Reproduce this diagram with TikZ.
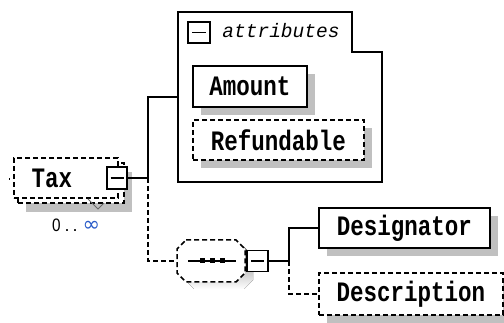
\documentclass[tikz,border=0pt]{standalone}
\usepackage{fontspec}
\usepackage{graphicx}
\usetikzlibrary{shadows}
\newfontfamily\monofam{Liberation Mono}
\newfontfamily\labfam{Liberation Sans}
\newfontfamily\symfam{DejaVu Sans}
\definecolor{shade}{RGB}{192,192,192}
\definecolor{infblue}{RGB}{40,90,200}
\newcommand\eltext[1]{\scalebox{1}[1.25]{#1}}
\tikzset{
  el/.style={draw, line width=1.5pt, fill=white, inner sep=0pt,
    font=\monofam\bfseries\fontsize{22.5}{24}\selectfont},
  elshadow/.style={drop shadow={shadow xshift=8pt, shadow yshift=-8pt, opacity=1, fill=shade}},
  optel/.style={el, dash pattern=on 5pt off 3pt},
  minusbox/.style={draw, line width=1.3pt, fill=white, inner sep=0pt},
  conn/.style={line width=1.2pt},
  optconn/.style={conn, dash pattern=on 5pt off 3pt},
  bar/.style={line width=1.2pt},
}
\begin{document}
\begin{tikzpicture}[x=1pt,y=-1pt]
\useasboundingbox (0,0) rectangle (504,323);

% ---- Tax (repeated element) ----
\node[optel, minimum width=106pt, minimum height=40pt,
  drop shadow={shadow xshift=8pt, shadow yshift=-9pt, opacity=1, fill=shade}] (taxback) at (71,183) {};
\node[optel, minimum width=104pt, minimum height=40pt] (tax) at (66,178) {\eltext{Tax}\hspace*{28pt}};
\node[minusbox, minimum width=20pt, minimum height=22pt] (taxm) at (117,178) {};
\draw[bar] ([xshift=-6.5pt]taxm.center) -- ([xshift=6.5pt]taxm.center);
\coordinate (taxin) at (9,179);
\draw[conn] (taxin) -- ([xshift=-3pt,yshift=-1pt]tax.west);
\draw[line width=1pt, black!60] (88,199) -- (98,209) -- (104,203);
\node[font=\labfam\fontsize{18}{18}\selectfont, inner sep=0pt, anchor=west] (occ) at (52,225)
  {\scalebox{0.85}[1]{0}\hspace{4pt}.\hspace{3pt}.\hspace{5pt}\textcolor{infblue}{\symfam\fontsize{21}{21}\selectfont ∞}};

% ---- attributes group ----
\node[minimum width=204pt, minimum height=170pt, inner sep=0pt] (attrs) at (280,97) {};
\draw[line width=1.2pt, fill=white] (178,12) -| (352,52) -| (382,182) -| cycle;
\node[minusbox, minimum width=22pt, minimum height=21pt] (attm) at (199,32.5) {};
\draw[bar] ([xshift=-7pt]attm.center) -- ([xshift=7pt]attm.center);
\node[font=\monofam\itshape\fontsize{19.5}{20}\selectfont, inner sep=0pt] (attlabel) at (281,31) {attributes};
\node[el, elshadow, minimum width=114pt, minimum height=41pt] (amount) at (250,86.5) {\eltext{Amount}};
\node[optel, elshadow, minimum width=171pt, minimum height=40pt] (refund) at (278.5,140) {\eltext{Refundable}};

% ---- sequence compositor ----
\node[minimum width=68pt, minimum height=42pt, inner sep=0pt] (seq) at (211,261) {};
\fill[shade, shift={(8pt,-7pt)}] (186,240) -- (236,240) -- (245,249) -- (245,273) -- (236,282) -- (186,282) -- (177,273) -- (177,249) -- cycle;
\draw[line width=1.5pt, fill=white, dash pattern=on 5pt off 3pt] (186,240) -- (236,240) -- (245,249) -- (245,273) -- (236,282) -- (186,282) -- (177,273) -- (177,249) -- cycle;
\draw[bar] (188,261) -- (236,261);
\foreach \xx in {202,212,222} \fill (\xx-2.5,258.5) rectangle (\xx+2.5,263.5);
\node[minusbox, minimum width=21pt, minimum height=21pt] (seqm) at (257.5,261) {};
\draw[bar] ([xshift=-6.5pt]seqm.center) -- ([xshift=6.5pt]seqm.center);

% ---- children of sequence ----
\node[el, elshadow, minimum width=171pt, minimum height=40pt] (desig) at (404.5,228) {\eltext{Designator}};
\node[optel, elshadow, minimum width=184pt, minimum height=42pt] (descr) at (411,294) {\eltext{Description}};

% ---- connectors ----
\coordinate (j1) at (148,178);
\coordinate (j2) at (289,261);
\draw[conn] (taxm.east) -- (j1) |- (attrs.west);
\draw[optconn] (j1) |- (seq.west);
\draw[conn] (seqm.east) -- (j2) |- (desig.west);
\draw[optconn] (j2) |- (descr.west);
\end{tikzpicture}
\end{document}
